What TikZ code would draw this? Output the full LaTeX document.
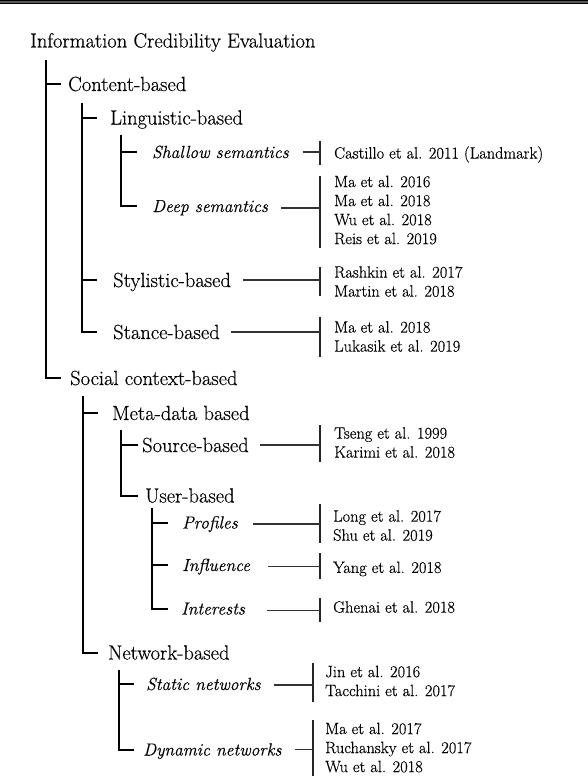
\documentclass[tikz,border=0pt]{standalone}
\usepackage{fontspec}
\setmainfont{Latin Modern Roman}[RawFeature={embolden=0.4}]
\newcommand\citl{\rule[-2pt]{0pt}{15.2pt}}
\begin{document}
\begin{tikzpicture}[x=1pt,y=-1pt,
  tree/.style={line width=2pt, black},
  brk/.style={line width=1.3pt, black!85},
  conn/.style={line width=1.4pt, black!80},
  lab/.style={anchor=west, inner sep=0pt, font=\fontsize{20.5}{24}\selectfont, text height=14pt, text depth=0pt},
  ilab/.style={anchor=west, inner sep=0pt, font=\fontsize{17.5}{21}\selectfont\itshape, text height=12pt, text depth=0pt},
  cit/.style={anchor=west, inner sep=0pt, align=left, font=\fontsize{16.4}{19}\selectfont}
]
\useasboundingbox (0,0) rectangle (588,776);
% top rule
\fill[black!65] (0,0) rectangle (588,3.8);
\draw[black, line width=1pt] (0,0.5) -- (588,0.5);
\draw[black, line width=1pt] (0,3.3) -- (588,3.3);

% tree labels
\node[lab] (title) at (30,40.5) {Information Credibility Evaluation};
\node[lab] (content) at (68,84) {Content-based};
\node[lab] (ling) at (110,117.5) {Linguistic-based};
\node[ilab] (shallow) at (152,152) {Shallow semantics};
\node[ilab] (deep) at (152,206) {Deep semantics};
\node[lab] (styl) at (113,280) {Stylistic-based};
\node[lab] (stance) at (113,332) {Stance-based};
\node[lab] (social) at (70,378) {Social context-based};
\node[lab] (meta) at (112,413) {Meta-data based};
\node[lab] (source) at (142,445) {Source-based};
\node[lab] (user) at (145,495.5) {User-based};
\node[ilab] (profiles) at (182,522.5) {Profiles};
\node[ilab] (influence) at (182,565) {Influence};
\node[ilab] (interests) at (181,608.5) {Interests};
\node[lab] (network) at (108,652.5) {Network-based};
\node[ilab] (static) at (146,684) {Static networks};
\node[ilab] (dynamic) at (143,749.5) {Dynamic networks};

% citations
\node[cit] (c1) at (334,154) {\citl Castillo et al. 2011 (Landmark)};
\node[cit] (c2) at (334,210) {\citl Ma et al. 2016\\\citl Ma et al. 2018\\\citl Wu et al. 2018\\\citl Reis et al. 2019};
\node[cit] (c3) at (334,281.5) {\citl Rashkin et al. 2017\\\citl Martin et al. 2018};
\node[cit] (c4) at (334,336.5) {\citl Ma et al. 2018\\\citl Lukasik et al. 2019};
\node[cit] (c5) at (334,442.5) {\citl Tseng et al. 1999\\\citl Karimi et al. 2018};
\node[cit] (c6) at (333,525.5) {\citl Long et al. 2017\\\citl Shu et al. 2019};
\node[cit] (c7) at (333,568) {\citl Yang et al. 2018};
\node[cit] (c8) at (333,607) {\citl Ghenai et al. 2018};
\node[cit] (c9) at (325,681) {\citl Jin et al. 2016\\\citl Tacchini et al. 2017};
\node[cit] (c10) at (325,747.5) {\citl Ma et al. 2017\\\citl Ruchansky et al. 2017\\\citl Wu et al. 2018};

% bracket anchors
\coordinate (b1) at ([xshift=-14pt]c1.west);
\coordinate (b2) at ([xshift=-14pt]c2.west);
\coordinate (b3) at ([xshift=-14pt]c3.west);
\coordinate (b4) at ([xshift=-14pt]c4.west);
\coordinate (b5) at ([xshift=-14pt]c5.west);
\coordinate (b6) at ([xshift=-13pt]c6.west);
\coordinate (b7) at ([xshift=-13pt]c7.west);
\coordinate (b8) at ([xshift=-13pt]c8.west);
\coordinate (b9) at ([xshift=-12pt]c9.west);
\coordinate (b10) at ([xshift=-12pt]c10.west);

\draw[brk] ([yshift=13pt]b1) -- ([yshift=-11pt]b1);
\draw[brk] ([yshift=34pt]b2) -- ([yshift=-38pt]b2);
\draw[brk] ([yshift=14.5pt]b3) -- ([yshift=-14.5pt]b3);
\draw[brk] ([yshift=19.5pt]b4) -- ([yshift=-20.5pt]b4);
\draw[brk] ([yshift=17.5pt]b5) -- ([yshift=-19.5pt]b5);
\draw[brk] ([yshift=21.5pt]b6) -- ([yshift=-17.5pt]b6);
\draw[brk] ([yshift=15pt]b7) -- ([yshift=-11pt]b7);
\draw[brk] ([yshift=9pt]b8) -- ([yshift=-15pt]b8);
\draw[brk] ([yshift=18pt]b9) -- ([yshift=-21pt]b9);
\draw[brk] ([yshift=27.5pt]b10) -- ([yshift=-28.5pt]b10);

% label to bracket connectors
\draw[conn] ([xshift=14pt]shallow.east) -- (shallow.east -| b1);
\draw[conn] ([xshift=13pt,yshift=-2pt]deep.east) -- ([yshift=-2pt]deep.east -| b2);
\draw[conn] ([xshift=12pt]styl.east) -- (styl.east -| b3);
\draw[conn] ([xshift=11pt]stance.east) -- (stance.east -| b4);
\draw[conn] ([xshift=11pt]source.east) -- (source.east -| b5);
\draw[conn] ([xshift=15pt,yshift=-1.5pt]profiles.east) -- ([yshift=-1.5pt]profiles.east -| b6);
\draw[conn] ([xshift=18pt,yshift=-1.5pt]influence.east) -- ([yshift=-1.5pt]influence.east -| b7);
\draw[conn] ([xshift=22pt,yshift=-2pt]interests.east) -- ([yshift=-2pt]interests.east -| b8);
\draw[conn] ([xshift=13pt,yshift=-1pt]static.east) -- ([yshift=-1pt]static.east -| b9);
\draw[conn] ([xshift=13pt]dynamic.east) -- (dynamic.east -| b10);

% tree spines
\coordinate (sA) at (46,60);
\draw[tree] (sA) -- (sA |- social.west) -- ++(15,0);
\draw[tree] (sA |- content.west) -- ++(15,0);

\coordinate (sB) at (82,103);
\draw[tree] (sB) -- (sB |- stance.west) -- ++(15,0);
\draw[tree] (sB |- ling.west) -- ++(15,0);
\draw[tree] (sB |- styl.west) -- ++(15,0);

\coordinate (sC) at (121,135);
\draw[tree] (sC) -- (sC |- deep.west) -- ++(16,0);
\draw[tree] (sC |- shallow.west) -- ++(16,0);

\coordinate (sD) at (83,396);
\draw[tree] (sD) -- (sD |- network.west) -- ++(15,0);
\draw[tree] (sD |- meta.west) -- ++(15,0);

\coordinate (sE) at (121,430);
\draw[tree] (sE) -- (sE |- user.west) -- ++(17,0);
\draw[tree] (sE |- source.west) -- ++(17,0);

\coordinate (sF) at (152,508);
\draw[tree] (sF) -- (sF |- interests.west) -- ++(16,0);
\draw[tree] (sF |- profiles.west) -- ++(16,0);
\draw[tree] (sF |- influence.west) -- ++(16,0);

\coordinate (sG) at (119,670);
\draw[tree] (sG) -- (sG |- dynamic.west) -- ++(15,0);
\draw[tree] (sG |- static.west) -- ++(15,0);
\end{tikzpicture}
\end{document}
